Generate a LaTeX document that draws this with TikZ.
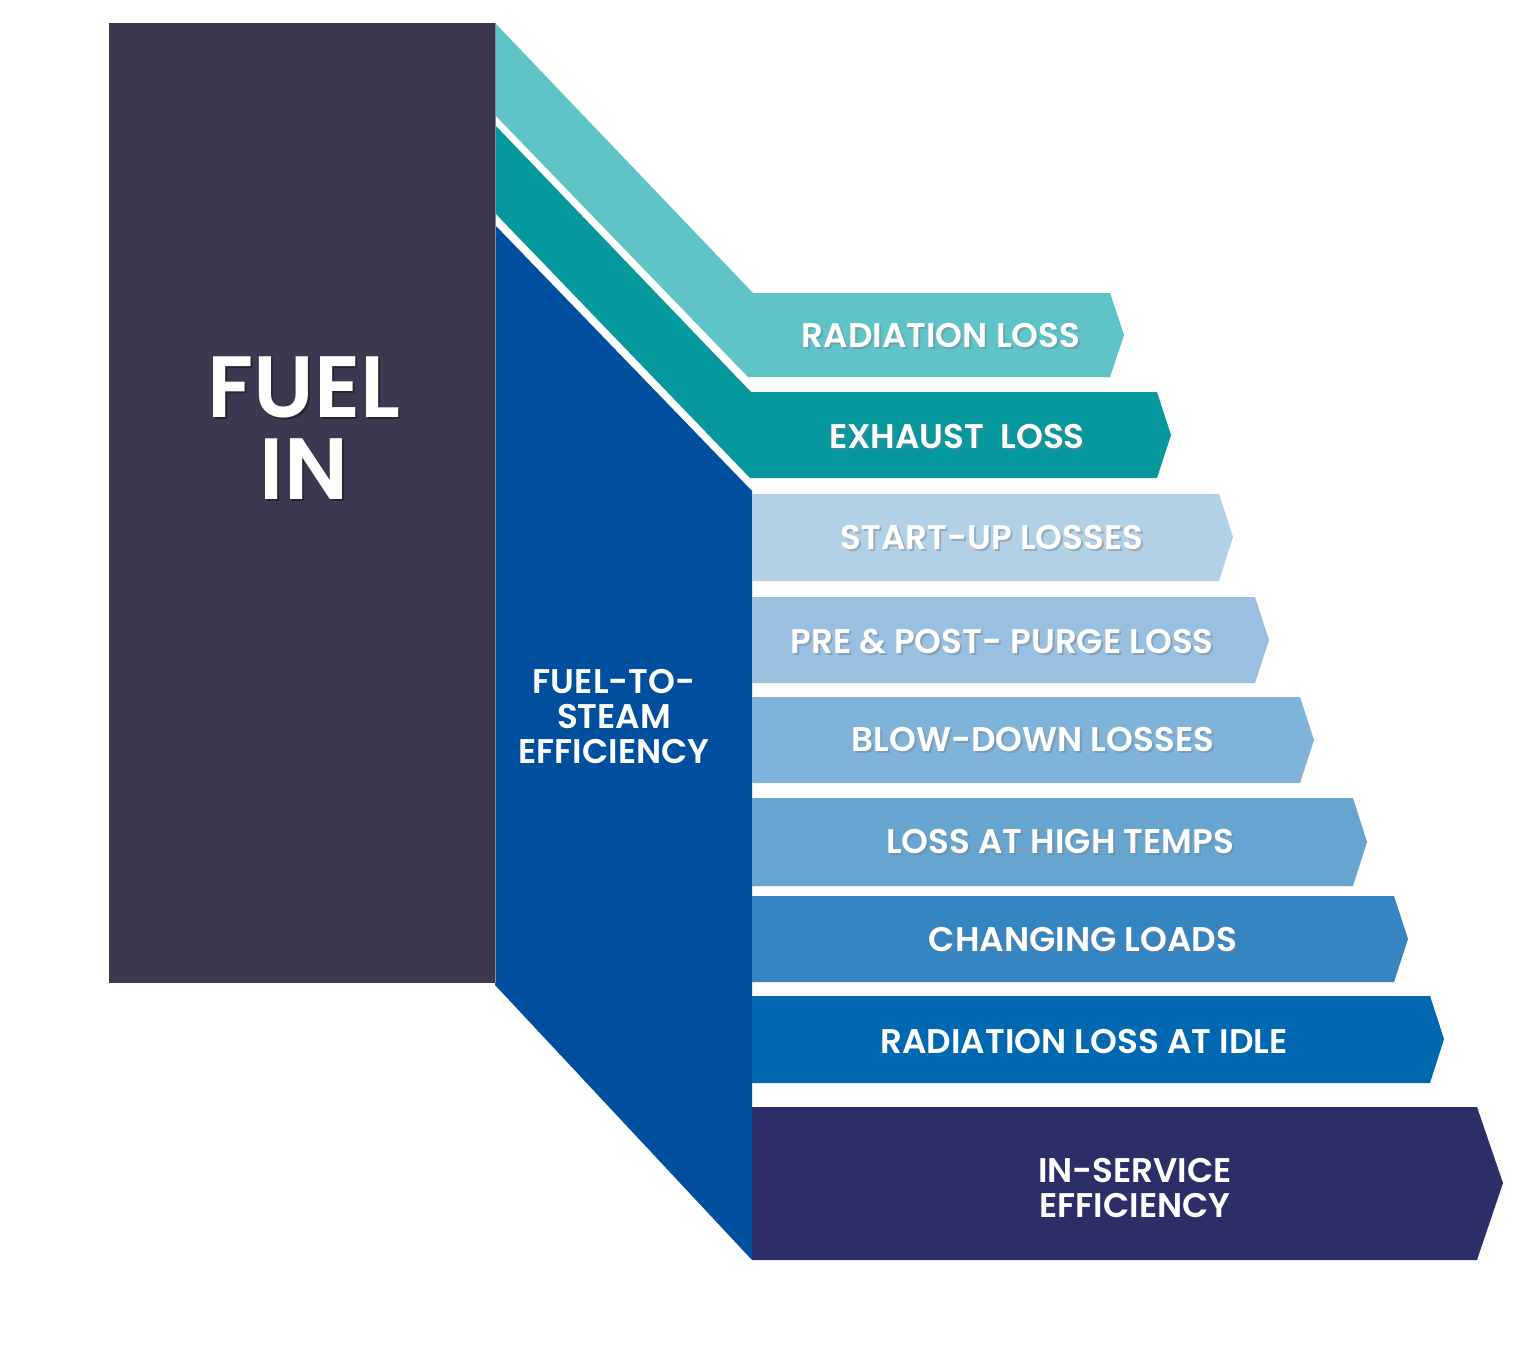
\documentclass[tikz,border=0pt]{standalone}
\usepackage{fontspec}
\setmainfont{Poppins}[BoldFont={Poppins SemiBold}]
\definecolor{fuelc}{HTML}{3A3950}
\definecolor{radc}{HTML}{5EC4C7}
\definecolor{exhc}{HTML}{05999E}
\definecolor{steamc}{HTML}{004F9F}
\definecolor{startc}{HTML}{B3D1E6}
\definecolor{purgec}{HTML}{99C0E0}
\definecolor{blowc}{HTML}{80B3D9}
\definecolor{highc}{HTML}{67A5D1}
\definecolor{loadc}{HTML}{3585C2}
\definecolor{idlec}{HTML}{0067B1}
\definecolor{servc}{HTML}{2C2E67}
\definecolor{shadowc}{HTML}{6F7F8F}
\tikzset{
  lbltxt/.style={text=white, font=\fontsize{17.1}{21}\selectfont\bfseries, inner sep=0pt, anchor=base, align=center},
  lblshadow/.style={lbltxt, text=shadowc, opacity=0.45},
  bigtxt/.style={text=white, font=\fontsize{43.5}{41}\selectfont\bfseries, inner sep=0pt, align=center},
}
\newcommand\barlabel[4]{%
  \node[lblshadow] at (#2+2,#3+2) {#4};
  \node[lbltxt] (#1) at (#2,#3) {#4};}
\begin{document}
\begin{tikzpicture}[x=0.5pt,y=-0.5pt]
\useasboundingbox (0,0) rectangle (1536,1355);
\fill[white] (0,0) rectangle (1536,1355);
% Fuel in block
\fill[fuelc] (109,23) rectangle (495,983);
% radiation loss band
\fill[radc] (495,23) -- (753,293) -- (1110,293) -- (1124,335) -- (1110,377) -- (748,377) -- (495,115) -- cycle;
% exhaust band
\fill[exhc] (495,125) -- (751,392) -- (1157,392) -- (1171,435) -- (1157,478) -- (750,478) -- (495,213) -- cycle;
% fuel-to-steam block
\fill[steamc] (495,225) -- (752,491) -- (752,1260) -- (495,985) -- cycle;
\draw[line width=0.5pt, color=fuelc!60!white] (495,23) -- (495,983);
% bars
\fill[startc] (752,494) -- (1219,494) -- (1233,537) -- (1219,581) -- (752,581) -- cycle;
\fill[purgec] (752,597) -- (1255,597) -- (1269,640) -- (1255,683) -- (752,683) -- cycle;
\fill[blowc]  (752,697) -- (1300,697) -- (1314,740) -- (1300,783) -- (752,783) -- cycle;
\fill[highc]  (752,798) -- (1353,798) -- (1367,842) -- (1353,886) -- (752,886) -- cycle;
\fill[loadc]  (752,896) -- (1394,896) -- (1408,939) -- (1394,982) -- (752,982) -- cycle;
\fill[idlec]  (752,996) -- (1430,996) -- (1444,1039) -- (1430,1083) -- (752,1083) -- cycle;
\fill[servc]  (752,1107) -- (1477,1107) -- (1503,1183) -- (1477,1260) -- (752,1260) -- cycle;
% texts
\node[bigtxt, text=black, opacity=0.35] at (306,430) {FUEL\\IN};
\node[bigtxt] (fuelin) at (304,428) {FUEL\\IN};
\node[lbltxt, anchor=center, font=\fontsize{17.1}{17.5}\selectfont\bfseries] (steam) at (614,716) {FUEL-TO-\\STEAM\\EFFICIENCY};
\barlabel{rad}{941}{347}{RADIATION LOSS}
\barlabel{exh}{957}{448}{EXHAUST\ \ LOSS}
\barlabel{start}{992}{549}{START-UP LOSSES}
\barlabel{purge}{1002}{653}{PRE \& POST- PURGE LOSS}
\barlabel{blow}{1033}{751}{BLOW-DOWN LOSSES}
\barlabel{high}{1060}{853}{LOSS AT HIGH TEMPS}
\barlabel{load}{1083}{951}{CHANGING LOADS}
\node[lbltxt] (idle) at (1084,1053) {RADIATION LOSS AT IDLE};
\node[lbltxt, anchor=center, font=\fontsize{17.1}{17.5}\selectfont\bfseries] (serv) at (1135,1188) {IN-SERVICE\\EFFICIENCY};
\end{tikzpicture}
\end{document}
